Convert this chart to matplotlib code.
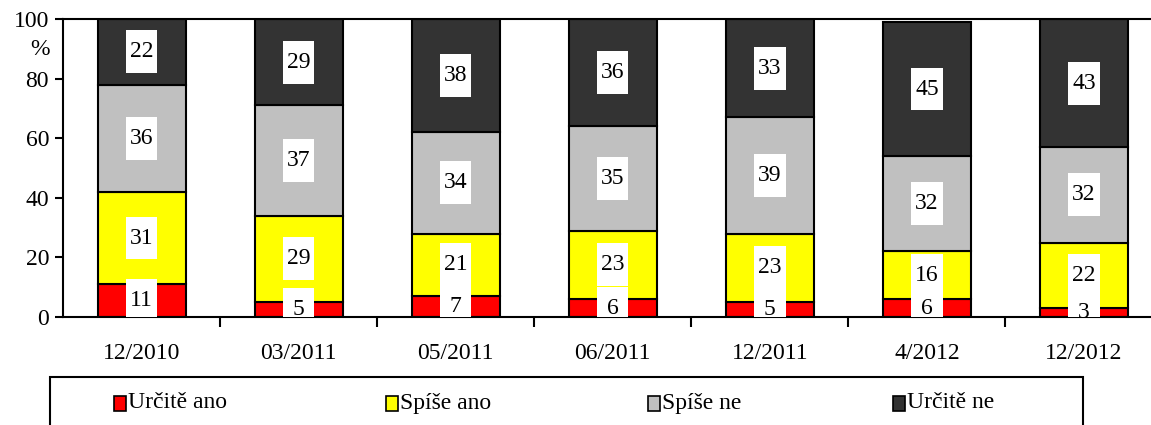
import matplotlib.pyplot as plt
from matplotlib.patches import Rectangle
import numpy as np

plt.rcParams['font.family'] = ['Liberation Serif', 'DejaVu Serif']

periods = ['12/2010', '03/2011', '05/2011', '06/2011', '12/2011', '4/2012', '12/2012']
urcite_ano = [11, 5, 7, 6, 5, 6, 3]
spise_ano = [31, 29, 21, 23, 23, 16, 22]
spise_ne = [36, 37, 34, 35, 39, 32, 32]
urcite_ne = [22, 29, 38, 36, 33, 45, 43]

series = [urcite_ano, spise_ano, spise_ne, urcite_ne]
names = ['Určitě ano', 'Spíše ano', 'Spíše ne', 'Určitě ne']
colors = ['#FF0000', '#FFFF00', '#C0C0C0', '#333333']

fs = 17

fig = plt.figure(figsize=(11.51, 4.25), dpi=100)
ax = fig.add_axes([63 / 1151, 1 - 317 / 425, 1 - 63 / 1151 + 0.01, 298 / 425])

x = np.arange(len(periods))
bottom = np.zeros(len(periods))
handles = []
for vals, name, col in zip(series, names, colors):
    vals = np.array(vals)
    b = ax.bar(x, vals, 0.56, bottom=bottom, color=col, edgecolor='black',
               linewidth=1.5, label=name, zorder=2)
    handles.append(b)
    for xi, v, b0 in zip(x, vals, bottom):
        yc = b0 + v / 2
        ax.add_patch(Rectangle((xi - 0.1, yc - 7.2), 0.2, 14.4,
                               facecolor='white', edgecolor='none', zorder=3))
        ax.text(xi, yc, str(v), ha='center', va='center', fontsize=fs, zorder=4)
    bottom += vals

ax.set_xlim(-0.5, len(periods) - 0.5)
ax.set_ylim(0, 100)
ax.set_yticks(range(0, 101, 20))
ax.set_xticks(x)
ax.set_xticklabels(periods)
ax.set_xticks(np.arange(len(periods)) + 0.5, minor=True)
ax.tick_params(axis='x', which='major', length=0, pad=19, labelsize=fs)
ax.tick_params(axis='x', which='minor', length=7, width=1.5, direction='out')
ax.tick_params(axis='y', length=6, width=1.5, direction='out', labelsize=fs, pad=4)
for s in ax.spines.values():
    s.set_linewidth(1.5)
ax.spines['right'].set_visible(False)
ax.text(-0.021, 0.896, '%', transform=ax.transAxes, ha='center', va='center', fontsize=fs)

# legend frame
fig.patches.append(Rectangle((50 / 1151, -0.05), (1083 - 50) / 1151, (425 - 377) / 425 + 0.05,
                             transform=fig.transFigure, facecolor='white',
                             edgecolor='black', linewidth=1.5))
leg_x = [120, 392, 654, 899]
for h, name, lx in zip(handles, names, leg_x):
    fig.patches.append(Rectangle(((lx - 6) / 1151, 1 - 411 / 425), 12 / 1151, 15 / 425,
                                 transform=fig.transFigure, facecolor=h.patches[0].get_facecolor(),
                                 edgecolor='black', linewidth=1.2))
    fig.text((lx + 8) / 1151, 1 - 403 / 425, name, ha='left', va='center', fontsize=fs)

fig.savefig('out.png', dpi=100)
